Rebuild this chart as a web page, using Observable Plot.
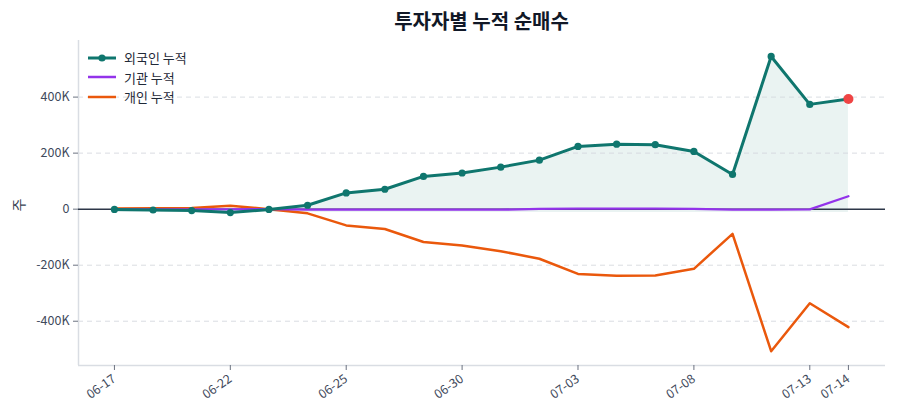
<!DOCTYPE html>
<html>
<head>
<meta charset="utf-8">
<script src="https://cdn.jsdelivr.net/npm/d3@7"></script>
<script src="https://cdn.jsdelivr.net/npm/@observablehq/plot@0.6"></script>
<style>
  html, body { margin: 0; padding: 0; background: #fff; }
  body { font-family: "Noto Sans CJK KR", "Noto Sans", sans-serif; }
  #wrap { position: relative; width: 900px; height: 420px; }
  #title { position: absolute; left: 78px; width: 807px; top: 6px; text-align: center;
           font-size: 20px; font-weight: 700; color: #111827; }
  #chart { position: absolute; left: 0; top: 40px; }
  #ylab { position: absolute; left: 12px; top: 195px; font-size: 14px; color: #374151;
          transform: rotate(-90deg); transform-origin: center; }
  #legend { position: absolute; left: 88px; top: 48px; font-size: 13px; color: #1f2937; }
  #legend .row { display: flex; align-items: center; height: 19.5px; }
  #legend svg { margin-right: 8px; }
</style>
</head>
<body>
<div id="wrap">
  <div id="title">투자자별 누적 순매수</div>
  <div id="chart"></div>
  <div id="ylab">주</div>
  <div id="legend"></div>
</div>
<script>
// Trading days
const dates = ["06-17","06-18","06-19","06-22","06-23","06-24","06-25","06-26","06-29","06-30",
               "07-01","07-02","07-03","07-06","07-07","07-08","07-09","07-10","07-13","07-14"];
// Cumulative net buying (shares)
const foreign     = [-1000, -3000, -5000, -12000, -1000, 14000, 58000, 71000, 117000, 129000,
                     150000, 175000, 224000, 232000, 230000, 206000, 124000, 545000, 374000, 393000];
const institution = [0, -1000, -1000, -1000, 0, -2000, -2000, -2000, -2000, -2000,
                     -2000, 1000, 2000, 2000, 2000, 1000, -2000, -2000, -1000, 46000];
const individual  = [2000, 3000, 4000, 12000, 0, -15000, -58000, -71000, -117000, -130000,
                     -150000, -177000, -231000, -238000, -237000, -213000, -88000, -507000, -336000, -421000];
const xTicks = [0, 3, 6, 9, 12, 15, 18, 19];
const yTicks = [-400000, -200000, 0, 200000, 400000];

const series = [
  {name: "외국인 누적", values: foreign,     color: "#0f766e", width: 3, dot: true},
  {name: "기관 누적",   values: institution, color: "#9333ea", width: 2.5, dot: false},
  {name: "개인 누적",   values: individual,  color: "#ea580c", width: 2.5, dot: false}
];

const rows = name => series.find(s => s.name === name).values.map((v, i) => ({i, v}));
const foreignRows = rows("외국인 누적");
const base = d3.min(foreign);
const last = foreignRows[foreignRows.length - 1];
const xDomain = [-0.93, dates.length - 1 + 0.96];
const yDomain = [-558000, 602000];

const chart = Plot.plot({
  width: 900,
  height: 380,
  marginTop: 0,
  marginLeft: 78,
  marginRight: 15,
  marginBottom: 55,
  style: {fontFamily: "'Noto Sans CJK KR', 'Noto Sans', sans-serif", fontSize: "12.5px", color: "#3f4a5c"},
  x: {domain: xDomain},
  y: {domain: yDomain},
  marks: [
    Plot.areaY(foreignRows, {x: "i", y1: base, y2: "v", fill: "#0f766e", fillOpacity: 0.085}),
    Plot.gridY(yTicks.filter(t => t !== 0), {stroke: "#d1d5db", strokeOpacity: 0.8, strokeDasharray: "5,4"}),
    Plot.ruleX([xDomain[0]], {stroke: "#d9dde3", strokeWidth: 1.5}),
    Plot.ruleY([yDomain[0]], {stroke: "#d9dde3", strokeWidth: 1.5}),
    Plot.ruleY([0], {stroke: "#2d3748", strokeWidth: 1.5}),
    Plot.axisY({ticks: yTicks, tickSize: 5, tickPadding: 4, stroke: "#6b7280",
                tickFormat: d => d === 0 ? "0" : `${d / 1000}K`, label: null}),
    Plot.axisX({ticks: xTicks, tickSize: 5, tickPadding: 7, tickRotate: -35, stroke: "#6b7280",
                fontSize: 12.5, tickFormat: i => dates[i], label: null}),
    Plot.lineY(rows("개인 누적"), {x: "i", y: "v", stroke: "#ea580c", strokeWidth: 2.5}),
    Plot.lineY(rows("기관 누적"), {x: "i", y: "v", stroke: "#9333ea", strokeWidth: 2.3}),
    Plot.lineY(foreignRows, {x: "i", y: "v", stroke: "#0f766e", strokeWidth: 3}),
    Plot.dot(foreignRows.slice(0, -1), {x: "i", y: "v", r: 3.6, fill: "#0f766e"}),
    Plot.dot([last], {x: "i", y: "v", r: 5, fill: "#ef4444"})
  ]
});
document.getElementById("chart").appendChild(chart);

// Legend
const legend = document.getElementById("legend");
for (const s of series) {
  const row = document.createElement("div");
  row.className = "row";
  row.innerHTML = `<svg width="28" height="10"><line x1="0" x2="28" y1="5" y2="5" stroke="${s.color}" stroke-width="${s.width}"/>` +
    (s.dot ? `<circle cx="14" cy="5" r="3.6" fill="${s.color}"/>` : "") + `</svg><span>${s.name}</span>`;
  legend.appendChild(row);
}
</script>
</body>
</html>
